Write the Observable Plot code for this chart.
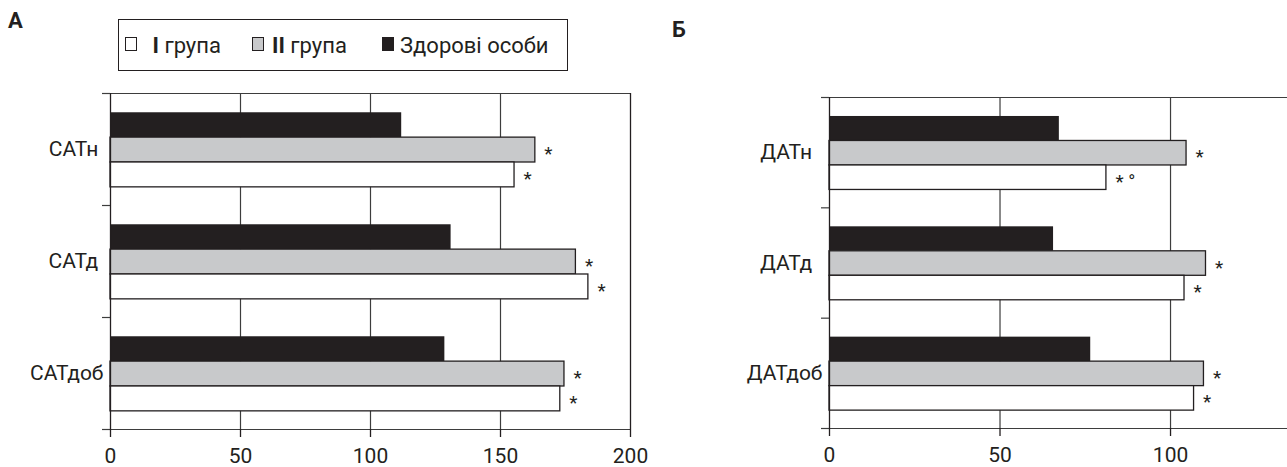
<!DOCTYPE html>
<html><head><meta charset="utf-8">
<script src="https://cdn.jsdelivr.net/npm/d3@7"></script>
<script src="https://cdn.jsdelivr.net/npm/@observablehq/plot@0.6"></script>
<style>
html,body{margin:0;padding:0;background:#fff;overflow:hidden}
#page{position:relative;width:1287px;height:467px;font-family:Roboto,"Open Sans",sans-serif;color:#231f20}
.panel{position:absolute;top:0}
.tag{position:absolute;font-weight:bold;font-size:22px;line-height:22px}
#legend{position:absolute;left:118px;top:19px;width:450px;height:52px;box-sizing:border-box;border:1.3px solid #231f20}
.sq{position:absolute;top:37px;width:12px;height:14px;box-sizing:border-box;border:1.3px solid #231f20}
.lt{position:absolute;top:35px;font-size:22px;line-height:22px;white-space:nowrap}
</style></head>
<body><div id="page">
<div class="tag" style="left:8px;top:10px">А</div>
<div class="tag" style="left:672px;top:19px">Б</div>
<div id="legend"></div>
<div id="sqs"></div>
<div id="left" class="panel" style="left:0"></div>
<div id="right" class="panel" style="left:700px"></div>
</div>
<script>
// ---- data ----
const seriesNames = ["Здорові особи", "II група", "I група"]; // top-to-bottom order within a category
const legendOrder = ["I група", "II група", "Здорові особи"];

const sadCats = ["САТн\u00a0", "САТд\u00a0", "САТдоб"];
const sadHealthy = [112, 131, 128.6];
const sadGroup2 = [163.4, 179, 174.6];
const sadGroup1 = [155.4, 183.8, 173];
const sadNotes2 = ["*", "*", "*"];
const sadNotes1 = ["*", "*", "*"];
const sadTicks = [0, 50, 100, 150, 200];

const datCats = ["ДАТн\u00a0\u00a0", "ДАТд\u00a0\u00a0", "ДАТдоб"];
const datHealthy = [67.4, 65.7, 76.6];
const datGroup2 = [104.7, 110.4, 109.8];
const datGroup1 = [81.2, 104.1, 106.9];
const datNotes2 = ["*", "*", "*"];
const datNotes1 = ["* °", "*", "*"];
const datTicks = [0, 50, 100];

// ---- styles ----
const INK = "#231f20";
const LINE = "#3d3d3d";
const fills = [INK, "#c8c9cb", "#ffffff"];
const PAD = 0.172, BAR = 0.222;

// legend
const legendX = [124.5, 252, 382];
const textX = [152.5, 272, 400];
const sqs = document.getElementById("sqs");
legendOrder.forEach((name, k) => {
  const sq = document.createElement("div");
  sq.className = "sq";
  sq.style.left = legendX[k] + "px";
  sq.style.background = [fills[2], fills[1], fills[0]][k];
  sqs.appendChild(sq);
  const t = document.createElement("div");
  t.className = "lt";
  t.style.left = textX[k] + "px";
  const m = name.match(/^(I+)\s(.*)$/);
  if (m) t.innerHTML = "<b>" + m[1] + "</b> " + m[2]; else t.textContent = name;
  sqs.appendChild(t);
});

function rowsFor(cats, values, notes) {
  return cats.map((c, i) => ({cat: c, i, value: values[i], note: notes ? notes[i] : ""}));
}

function panel({cats, healthy, g2, g1, notes2, notes1, ticks, xmax, width, marginLeft, marginRight, marginTop, marginBottom, rightFrame}) {
  const series = [rowsFor(cats, healthy, null), rowsFor(cats, g2, notes2), rowsFor(cats, g1, notes1)];
  const grid = ticks.filter(t => t > 0 && t < xmax);
  const marks = [
    Plot.ruleX(grid, {y1: 0, y2: 3, stroke: LINE, strokeWidth: 1.2}),
  ];
  series.forEach((rows, j) => {
    marks.push(Plot.rectX(rows, {
      x1: 0, x2: "value",
      y1: d => d.i + PAD + j * BAR, y2: d => d.i + PAD + (j + 1) * BAR,
      fill: fills[j], stroke: j === 0 ? "none" : INK, strokeWidth: 1.3
    }));
  });
  series.forEach((rows, j) => {
    if (j === 0) return;
    marks.push(Plot.text(rows, {
      x: "value", y: d => d.i + PAD + (j + 0.5) * BAR, text: "note",
      textAnchor: "start", dx: 9, dy: 4, fontSize: 19, fill: INK
    }));
  });
  marks.push(Plot.ruleY([0, 3], {stroke: LINE, strokeWidth: 1.2}));
  marks.push(Plot.ruleX([0], {y1: 0, y2: 3, stroke: INK, strokeWidth: 1.3}));
  if (rightFrame) marks.push(Plot.ruleX([xmax], {y1: 0, y2: 3, stroke: INK, strokeWidth: 1.3}));
  marks.push(Plot.axisY([0, 1, 2, 3], {tickSize: 8, tickFormat: () => "", label: null, stroke: LINE, strokeWidth: 1.2}));
  marks.push(Plot.axisY([0.5, 1.5, 2.5], {tickSize: 0, tickPadding: 7, label: null, tickFormat: d => cats[Math.floor(d)], fontSize: 21, fill: INK}));
  marks.push(Plot.axisX(ticks, {tickSize: 8, tickPadding: 11, label: null, fontSize: 21, fill: INK, stroke: INK, strokeWidth: 1.3}));
  return Plot.plot({
    width, height: 467,
    marginLeft, marginRight, marginTop, marginBottom,
    x: {domain: [0, xmax], label: null},
    y: {domain: [0, 3], reverse: true, label: null},
    style: {fontFamily: "Roboto, 'Open Sans', sans-serif", color: INK, background: "transparent", overflow: "visible"},
    marks
  });
}

document.getElementById("left").appendChild(panel({
  cats: sadCats, healthy: sadHealthy, g2: sadGroup2, g1: sadGroup1, notes2: sadNotes2, notes1: sadNotes1,
  ticks: sadTicks, xmax: 200, width: 650, marginLeft: 110, marginRight: 20, marginTop: 93, marginBottom: 38, rightFrame: true
}));
document.getElementById("right").appendChild(panel({
  cats: datCats, healthy: datHealthy, g2: datGroup2, g1: datGroup1, notes2: datNotes2, notes1: datNotes1,
  ticks: datTicks, xmax: 134.3, width: 587, marginLeft: 129, marginRight: 0, marginTop: 97, marginBottom: 39, rightFrame: false
}));
</script>
</body></html>
